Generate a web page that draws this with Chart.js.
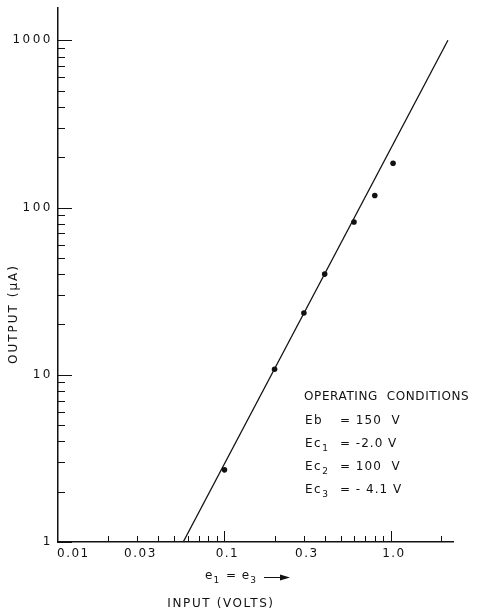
<!DOCTYPE html>
<html>
<head>
<meta charset="utf-8">
<script src="https://cdn.jsdelivr.net/npm/chart.js@4/dist/chart.umd.min.js"></script>
<style>
  html, body { margin: 0; padding: 0; background: #fff; }
  #wrap { width: 486px; height: 616px; }
</style>
</head>
<body>
<div id="wrap"><canvas id="plot" width="486" height="616"></canvas></div>
<script>
/* ===============================
   DATA
================================ */
const inputVolts = [0.1, 0.2, 0.3, 0.4, 0.6, 0.8, 1.03];
const outputMicroAmps = [2.7, 10.8, 23.4, 40, 82, 118, 184];

// straight fitted line, log-log
const fitInput = [0.0565, 2.2];
const fitOutput = [1, 1000];

const xTickValues = [0.01, 0.03, 0.1, 0.3, 1.0];
const xTickLabels = ["0.01", "0.03", "0.1", "0.3", "1.0"];
const yTickValues = [1, 10, 100, 1000];
const yTickLabels = ["1", "10", "100", "1000"];

// [name, subscript, value]
const conditions = [
  ["Eb", "", "= 150  V"],
  ["Ec", "1", "= -2.0 V"],
  ["Ec", "2", "= 100  V"],
  ["Ec", "3", "= - 4.1 V"]
];

const INK = "#111";
const FONT = "DejaVu Sans, sans-serif";

/* ===============================
   TEXT HELPERS
================================ */
function spacedText(ctx, txt, x, y, spacing, align) {
  ctx.letterSpacing = spacing + "px";
  ctx.textAlign = align || "left";
  ctx.fillText(txt, x, y);
  const w = ctx.measureText(txt).width;
  ctx.letterSpacing = "0px";
  return w;
}

// base text followed by a lowered, smaller digit; returns end x
function subText(ctx, base, sub, x, y, spacing) {
  let w = spacedText(ctx, base, x, y, spacing, "left");
  if (sub) {
    const keep = ctx.font;
    ctx.font = "9px " + FONT;
    w += spacedText(ctx, sub, x + w, y + 5, 0, "left");
    ctx.font = keep;
  }
  return x + w;
}

/* ===============================
   INWARD TICKS + LABELS
================================ */
const paperPlugin = {
  id: "paper",
  afterDraw(c) {
    const ctx = c.ctx;
    const xs = c.scales.x, ys = c.scales.y;
    const area = c.chartArea;
    ctx.save();
    ctx.strokeStyle = INK;
    ctx.fillStyle = INK;
    ctx.lineWidth = 1;

    // y axis ticks pointing into the plot
    yTickValues.forEach(d => {
      for (let m = 1; m <= 9; m++) {
        const v = d * m;
        if (v > ys.max) break;
        const py = Math.round(ys.getPixelForValue(v)) + 0.5;
        const len = m === 1 ? 14 : 7;
        ctx.beginPath();
        ctx.moveTo(area.left, py);
        ctx.lineTo(area.left + len, py);
        ctx.stroke();
      }
    });

    // x axis ticks pointing up
    [0.01, 0.1, 1].forEach(d => {
      for (let m = 1; m <= 9; m++) {
        const v = d * m;
        if (v > xs.max) break;
        if (d === 0.01 && m === 1) continue;
        const px = Math.round(xs.getPixelForValue(v)) + 0.5;
        const len = m === 1 ? 11 : 6;
        ctx.beginPath();
        ctx.moveTo(px, area.bottom);
        ctx.lineTo(px, area.bottom - len);
        ctx.stroke();
      }
    });

    ctx.font = "12px " + FONT;
    ctx.textBaseline = "middle";

    // y tick labels
    yTickValues.forEach((v, i) => {
      spacedText(ctx, yTickLabels[i], area.left - 5, ys.getPixelForValue(v), 2.5, "right");
    });

    // x tick labels
    xTickValues.forEach((v, i) => {
      const px = xs.getPixelForValue(v);
      if (i === 0) spacedText(ctx, xTickLabels[i], px - 1, area.bottom + 12, 1.5, "left");
      else spacedText(ctx, xTickLabels[i], px + 3, area.bottom + 12, 1.5, "center");
    });

    // y title
    ctx.save();
    ctx.translate(14, 314);
    ctx.rotate(-Math.PI / 2);
    spacedText(ctx, "OUTPUT (\u03bcA)", 0, 0, 2, "center");
    ctx.restore();

    // x titles
    let ex = subText(ctx, "e", "1", 205, 576, 1);
    ex = spacedText(ctx, " = ", ex + 2, 576, 1, "left") + ex + 2;
    subText(ctx, "e", "3", ex, 576, 1);
    ctx.beginPath();
    ctx.moveTo(264, 577.5);
    ctx.lineTo(283, 577.5);
    ctx.stroke();
    ctx.beginPath();
    ctx.moveTo(290, 577.5);
    ctx.lineTo(280, 574.5);
    ctx.lineTo(280, 580.5);
    ctx.closePath();
    ctx.fill();
    spacedText(ctx, "INPUT (VOLTS)", 221, 604, 1.6, "center");

    // operating conditions block
    spacedText(ctx, "OPERATING  CONDITIONS", 304, 397, 0.6, "left");
    conditions.forEach((row, i) => {
      const py = 421 + i * 23;
      subText(ctx, row[0], row[1], 305, py, 1.5);
      spacedText(ctx, row[2], 340, py, 1, "left");
    });

    ctx.restore();
  }
};

/* ===============================
   CHART
================================ */
new Chart(document.getElementById("plot"), {
  type: "scatter",
  data: {
    datasets: [
      {
        label: "fit",
        data: fitInput.map((x, i) => ({ x: x, y: fitOutput[i] })),
        showLine: true,
        borderColor: INK,
        borderWidth: 1.3,
        pointRadius: 0,
        clip: false
      },
      {
        label: "measured",
        data: inputVolts.map((x, i) => ({ x: x, y: outputMicroAmps[i] })),
        showLine: false,
        backgroundColor: INK,
        borderColor: INK,
        pointRadius: 2.8,
        pointBorderWidth: 0
      }
    ]
  },
  options: {
    responsive: false,
    animation: false,
    layout: { padding: { top: 8, right: 33, left: 0, bottom: 0 } },
    plugins: {
      legend: { display: false },
      tooltip: { enabled: false }
    },
    scales: {
      x: {
        type: "logarithmic",
        min: 0.01,
        max: 2.36,
        grid: { display: false },
        ticks: { display: false },
        border: { display: true, color: INK, width: 1.5 },
        afterFit(s) { s.height = 74; }
      },
      y: {
        type: "logarithmic",
        min: 1,
        max: 1560,
        grid: { display: false },
        ticks: { display: false },
        border: { display: true, color: INK, width: 1.5 },
        afterFit(s) { s.width = 58; }
      }
    }
  },
  plugins: [paperPlugin]
});
</script>
</body>
</html>
